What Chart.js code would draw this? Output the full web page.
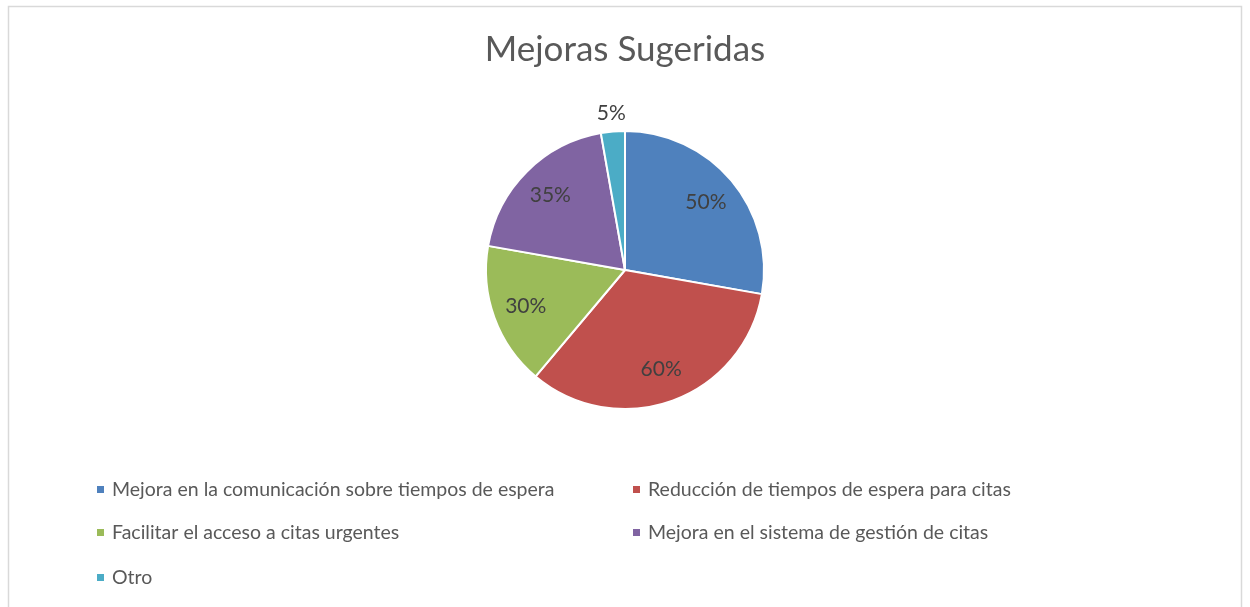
<!DOCTYPE html>
<html>
<head>
<meta charset="utf-8">
<script src="https://cdn.jsdelivr.net/npm/chart.js@4"></script>
<style>
  html, body { margin: 0; padding: 0; background: #fff; }
  #wrap { width: 1250px; height: 607px; position: relative; }
</style>
</head>
<body>
<div id="wrap"><canvas id="mejorasChart"></canvas></div>
<script>
// Datos del gráfico
const categorias = [
    'Mejora en la comunicación sobre tiempos de espera',
    'Reducción de tiempos de espera para citas',
    'Facilitar el acceso a citas urgentes',
    'Mejora en el sistema de gestión de citas',
    'Otro'
];
const porcentajes = [50, 60, 30, 35, 5];
const colores = ['#4F81BD', '#C0504D', '#9BBB59', '#8064A2', '#4BACC6'];
const titulo = 'Mejoras Sugeridas';

const fuente = 'Lato, "Open Sans", sans-serif';

// Marco gris alrededor del gráfico
const marco = {
    id: 'marco',
    beforeDraw(chart) {
        const ctx = chart.ctx;
        ctx.save();
        ctx.fillStyle = '#fff';
        ctx.fillRect(0, 0, chart.width, chart.height);
        ctx.strokeStyle = '#d9d9d9';
        ctx.lineWidth = 1.5;
        ctx.strokeRect(8.5, 6.5, 1233, 700);
        ctx.restore();
    }
};

// Etiquetas de porcentaje sobre cada sector
const etiquetas = {
    id: 'etiquetas',
    afterDatasetsDraw(chart) {
        const ctx = chart.ctx;
        const meta = chart.getDatasetMeta(0);
        ctx.save();
        ctx.font = '21px ' + fuente;
        ctx.fillStyle = '#404040';
        ctx.textAlign = 'center';
        ctx.textBaseline = 'middle';
        meta.data.forEach((arc, i) => {
            const p = arc.getProps(['x', 'y', 'startAngle', 'endAngle', 'outerRadius'], true);
            const mid = (p.startAngle + p.endAngle) / 2;
            const fuera = (p.endAngle - p.startAngle) < 0.3;
            const r = fuera ? p.outerRadius + 18 : p.outerRadius * 0.76;
            ctx.fillText(porcentajes[i] + '%', p.x + Math.cos(mid) * r, p.y + Math.sin(mid) * r);
        });
        ctx.restore();
    }
};

// Leyenda en dos columnas, como en Excel
const leyenda = {
    id: 'leyenda',
    afterDraw(chart) {
        const ctx = chart.ctx;
        const columnas = [97, 633];
        const filas = [490, 533, 578];
        ctx.save();
        ctx.font = '19.5px ' + fuente;
        ctx.textBaseline = 'middle';
        ctx.textAlign = 'left';
        categorias.forEach((c, i) => {
            const x = columnas[i % 2];
            const y = filas[Math.floor(i / 2)];
            ctx.fillStyle = colores[i];
            ctx.fillRect(x, y - 4, 7, 7);
            ctx.fillStyle = '#595959';
            ctx.fillText(c, x + 15, y);
        });
        ctx.restore();
    }
};

const ctx = document.getElementById('mejorasChart').getContext('2d');
new Chart(ctx, {
    type: 'pie',
    data: {
        labels: categorias,
        datasets: [{
            data: porcentajes,
            backgroundColor: colores,
            borderColor: '#ffffff',
            borderWidth: 2
        }]
    },
    options: {
        responsive: true,
        maintainAspectRatio: false,
        animation: false,
        layout: { padding: { top: 0, bottom: 197, left: 0, right: 0 } },
        plugins: {
            legend: { display: false },
            tooltip: { enabled: false },
            title: {
                display: true,
                text: titulo,
                color: '#595959',
                font: { family: fuente, size: 35, weight: 'normal' },
                padding: { top: 29, bottom: 59 }
            }
        }
    },
    plugins: [marco, etiquetas, leyenda]
});
</script>
</body>
</html>
